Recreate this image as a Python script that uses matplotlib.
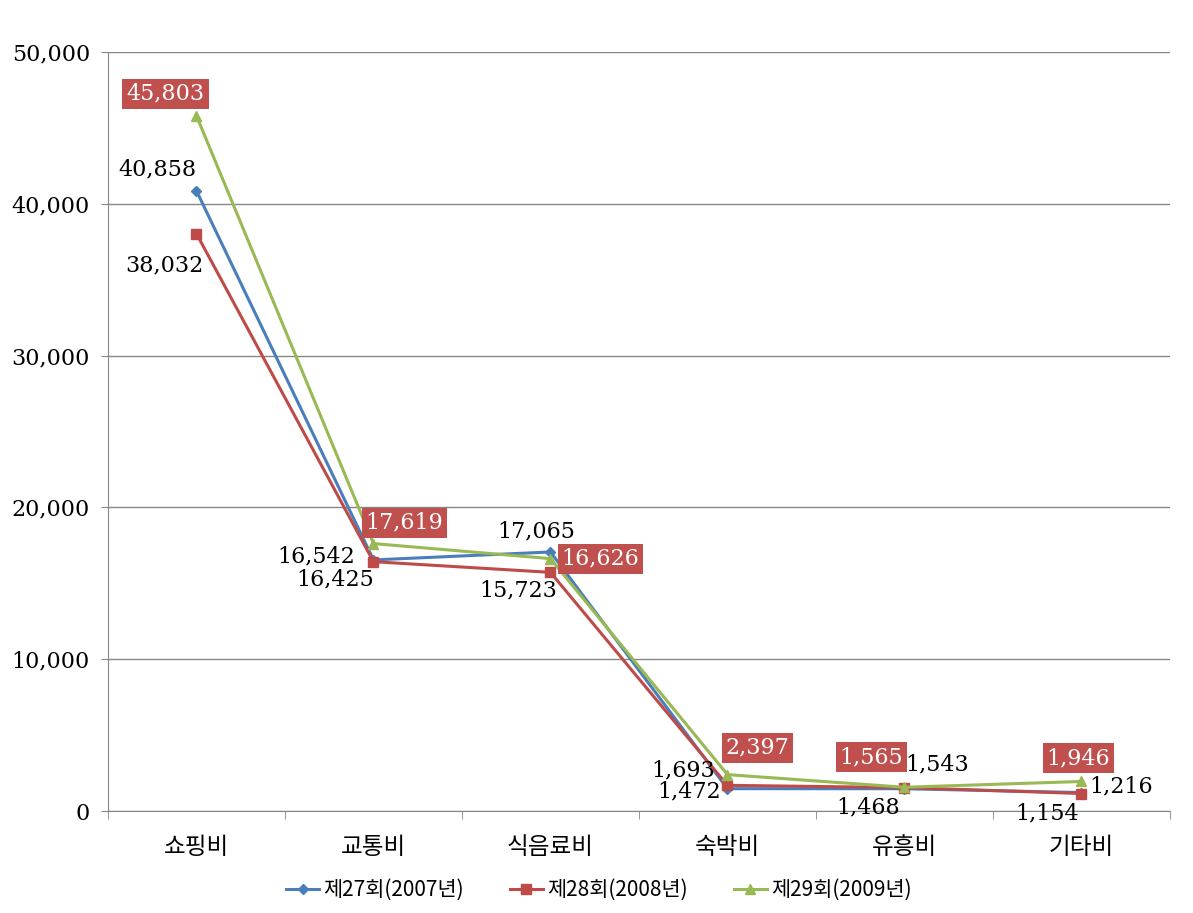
import matplotlib.pyplot as plt
import numpy as np
from matplotlib.ticker import FuncFormatter, FixedLocator

# --- data ---
categories = ['쇼핑비', '교통비', '식음료비', '숙박비', '유흥비', '기타비']
series_names = ['제27회(2007년)', '제28회(2008년)', '제29회(2009년)']
vals_2007 = [40858, 16542, 17065, 1472, 1468, 1216]
vals_2008 = [38032, 16425, 15723, 1693, 1543, 1154]
vals_2009 = [45803, 17619, 16626, 2397, 1565, 1946]

# --- style ---
colors = ['#4A7EBB', '#BE4B48', '#98B954']
markers = ['D', 's', '^']
msizes = [5, 7, 7]
box_color = '#C0504D'
num_font = ['DejaVu Serif']
kr_font = ['Noto Sans CJK KR', 'DejaVu Sans']

# label offsets in pixels (dx, dy), per series, per category
offsets = [
    [(-39, 21), (-57, 3), (-14, 21), (-38, -3), (-36, -19), (40, 6)],
    [(-32, -32), (-38, -18), (-32, -18), (-44, 15), (33, 23), (-34, -20)],
    [(-31, 22), (31, 21), (50, 0), (30, 27), (-33, 30), (-3, 23)],
]

fig = plt.figure(figsize=(11.93, 9.13), dpi=100)
ax = fig.add_axes([0.0905, 0.1117, 0.8902, 0.8313])

x = np.arange(len(categories))
all_vals = [vals_2007, vals_2008, vals_2009]
for i, vals in enumerate(all_vals):
    ax.plot(x, vals, color=colors[i], lw=2.2, marker=markers[i], ms=msizes[i],
            label=series_names[i], zorder=3 + i * 0.1)

# data labels
for i, vals in enumerate(all_vals):
    for j, v in enumerate(vals):
        dx, dy = offsets[i][j]
        if i == 2:
            ax.annotate(f'{v:,}', (x[j], v), xytext=(dx, dy), textcoords='offset pixels',
                        ha='center', va='center', fontsize=16, family=num_font, color='white',
                        bbox=dict(boxstyle='square,pad=0.18', fc=box_color, ec='none'), zorder=6)
        else:
            ax.annotate(f'{v:,}', (x[j], v), xytext=(dx, dy), textcoords='offset pixels',
                        ha='center', va='center', fontsize=16, family=num_font, color='black', zorder=6)

ax.set_xlim(-0.5, len(categories) - 0.5)
ax.set_ylim(0, 50000)
ax.set_yticks(np.arange(0, 50001, 10000))
ax.yaxis.set_major_formatter(FuncFormatter(lambda v, p: f'{int(v):,}'))
ax.grid(axis='y', color='#868686', lw=1)
ax.set_axisbelow(True)

# category labels centred, ticks on boundaries
ax.set_xticks(x)
ax.set_xticklabels(categories, family=kr_font, fontsize=17)
ax.tick_params(axis='x', which='major', length=0, pad=18)
ax.xaxis.set_minor_locator(FixedLocator(np.arange(-0.5, len(categories), 1)))
ax.tick_params(axis='x', which='minor', length=6, color='#868686')
ax.tick_params(axis='y', length=5, color='#868686', pad=8)
for lab in ax.get_yticklabels():
    lab.set_family(num_font)
    lab.set_fontsize(16)

for s in ['top', 'right']:
    ax.spines[s].set_visible(False)
for s in ['left', 'bottom']:
    ax.spines[s].set_color('#868686')

fig.legend(loc='center', bbox_to_anchor=(0.502, 0.025), ncol=3, frameon=False,
           prop={'family': kr_font, 'size': 15}, handlelength=1.6, handletextpad=0.2,
           columnspacing=2.2)

fig.savefig('out.png', dpi=100)
